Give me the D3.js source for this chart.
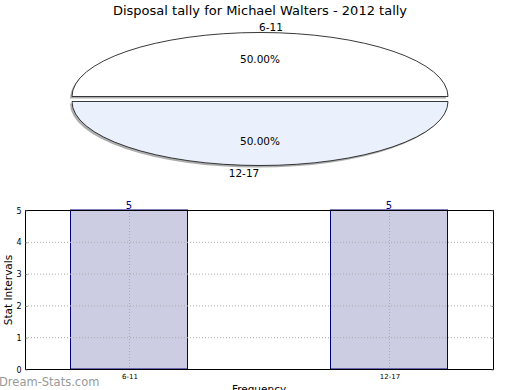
<!DOCTYPE html>
<html>
<head>
<meta charset="utf-8">
<script src="https://cdn.jsdelivr.net/npm/d3@7"></script>
<style>
body { margin: 0; background: #fff; }
svg { font-family: "DejaVu Sans", sans-serif; }
</style>
</head>
<body>
<div id="chart"></div>
<script>
var width = 520,
    height = 390;

var categories = ["6-11", "12-17"];
var values = [5, 5];
var yTicks = [0, 1, 2, 3, 4, 5];
var sliceColors = ["#ffffff", "#eaf1fd"];

var svg = d3.select("#chart").append("svg")
    .attr("width", width)
    .attr("height", height);

svg.append("text")
    .attr("x", 260)
    .attr("y", 15)
    .attr("text-anchor", "middle")
    .style("font-size", "13px")
    .text("Disposal tally for Michael Walters - 2012 tally");

// pie, drawn as circle then squashed into an ellipse
var rx = 188, ry = 64, pcx = 260, pcy = 99, explode = 2.5;
var pie = d3.pie().sort(null).startAngle(-Math.PI / 2).endAngle(1.5 * Math.PI);
var arcs = pie(values);
var arc = d3.arc().innerRadius(0).outerRadius(rx);

var pieG = svg.append("g");
arcs.forEach(function (d, i) {
    var mid = (d.startAngle + d.endAngle) / 2;
    var dx = Math.sin(mid) * explode, dy = -Math.cos(mid) * explode;
    var g = pieG.append("g")
        .attr("transform", "translate(" + (pcx + dx) + "," + (pcy + dy) + ")");
    g.append("path")
        .attr("d", arc(d))
        .attr("transform", "translate(-2,2) scale(1," + (ry / rx) + ")")
        .style("fill", "#999")
        .style("opacity", 0.8);
    g.append("path")
        .attr("d", arc(d))
        .attr("transform", "scale(1," + (ry / rx) + ")")
        .style("fill", sliceColors[i])
        .style("stroke", "#222")
        .style("stroke-width", 0.9)
        .attr("vector-effect", "non-scaling-stroke");
});

// percent and category labels
var total = d3.sum(values);
var pctY = [59, 141];
var labY = [27, 173];
var labX = [271, 244];
arcs.forEach(function (d, i) {
    svg.append("text")
        .attr("x", pcx)
        .attr("y", pctY[i] + 4)
        .attr("text-anchor", "middle")
        .style("font-size", "10.5px")
        .text((d.value / total * 100).toFixed(2) + "%");
    svg.append("text")
        .attr("x", labX[i])
        .attr("y", labY[i] + 4)
        .attr("text-anchor", "middle")
        .style("font-size", "10.5px")
        .text(categories[i]);
});

// bar chart
var m = {left: 25, right: 493, top: 210, bottom: 369};
var x = d3.scaleLinear().domain([-0.4, 1.4]).range([m.left, m.right]);
var y = d3.scaleLinear().domain([0, 5]).range([m.bottom, m.top]);
var barW = 0.45;

svg.selectAll("rect.bar")
    .data(values)
    .enter().append("rect")
    .attr("class", "bar")
    .attr("x", function (d, i) { return x(i - barW / 2); })
    .attr("width", function () { return x(barW) - x(0); })
    .attr("y", function (d) { return y(d); })
    .attr("height", function (d) { return y(0) - y(d); })
    .style("fill", "#cccce2")
    .style("stroke", "#000080")
    .style("stroke-width", 1);

var gridG = svg.append("g")
    .style("stroke", "#aaa")
    .style("stroke-width", 1)
    .style("stroke-dasharray", "1,2");
gridG.selectAll("line.h")
    .data(yTicks.slice(1, -1))
    .enter().append("line")
    .attr("x1", m.left).attr("x2", m.right)
    .attr("y1", function (d) { return y(d) + 0.5; })
    .attr("y2", function (d) { return y(d) + 0.5; });
gridG.selectAll("line.v")
    .data(categories)
    .enter().append("line")
    .attr("x1", function (d, i) { return Math.round(x(i)) + 0.5; })
    .attr("x2", function (d, i) { return Math.round(x(i)) + 0.5; })
    .attr("y1", m.top).attr("y2", m.bottom);

svg.append("rect")
    .attr("x", m.left + 0.5).attr("y", m.top + 0.5)
    .attr("width", m.right - m.left).attr("height", m.bottom - m.top)
    .style("fill", "none")
    .style("stroke", "#000")
    .style("stroke-width", 1);

var yAxis = svg.append("g")
    .attr("transform", "translate(" + (m.left + 0.5) + ",0.5)")
    .call(d3.axisLeft(y).tickValues(yTicks).tickSize(-2).tickPadding(4)
        .tickFormat(d3.format("d")));
yAxis.select(".domain").remove();
yAxis.selectAll("text").style("font-size", "8px").style("font-family", "DejaVu Sans");
yAxis.selectAll("line").style("stroke", "#888");

var yAxisR = svg.append("g")
    .attr("transform", "translate(" + (m.right + 0.5) + ",0.5)")
    .call(d3.axisRight(y).tickValues(yTicks).tickSize(-2).tickFormat(""));
yAxisR.select(".domain").remove();
yAxisR.selectAll("line").style("stroke", "#888");

var xAxis = svg.append("g")
    .attr("transform", "translate(0.5," + (m.bottom + 0.5) + ")")
    .call(d3.axisBottom(x).tickValues([0, 1]).tickSize(0).tickPadding(5)
        .tickFormat(function (d) { return categories[d]; }));
xAxis.select(".domain").remove();
xAxis.selectAll("text").style("font-size", "7px").style("font-family", "DejaVu Sans");

svg.selectAll("text.val")
    .data(values)
    .enter().append("text")
    .attr("class", "val")
    .attr("x", function (d, i) { return x(i); })
    .attr("y", function (d) { return y(d) - 1; })
    .attr("text-anchor", "middle")
    .style("font-size", "10px")
    .style("fill", "#000080")
    .text(function (d) { return d; });

svg.append("text")
    .attr("transform", "translate(12,290) rotate(-90)")
    .attr("text-anchor", "middle")
    .style("font-size", "10.5px")
    .text("Stat Intervals");

svg.append("text")
    .attr("x", 259)
    .attr("y", 393)
    .attr("text-anchor", "middle")
    .style("font-size", "10.5px")
    .text("Frequency");

svg.append("text")
    .attr("x", -1)
    .attr("y", 385.5)
    .style("font-size", "11.5px")
    .style("fill", "#999")
    .text("Dream-Stats.com");
</script>
</body>
</html>
